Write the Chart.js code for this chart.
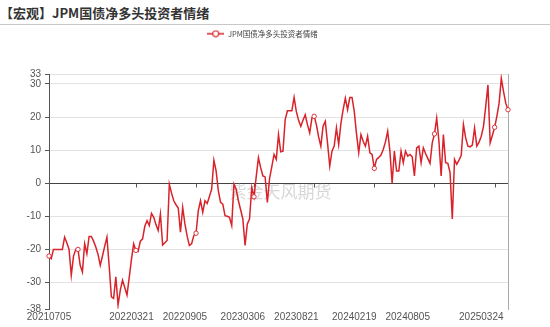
<!DOCTYPE html>
<html>
<head>
<meta charset="utf-8">
<script src="https://cdn.jsdelivr.net/npm/chart.js@4/dist/chart.umd.min.js"></script>
<style>
  html, body { margin: 0; padding: 0; background: #fff; }
  body { width: 550px; height: 327px; position: relative; overflow: hidden; }
  .title {
    position: absolute; left: 0; top: 0; width: 550px; height: 24px;
    border-bottom: 1px solid #c8c8c8;
    font: bold 13px "Noto Sans CJK SC", sans-serif; color: #333;
    line-height: 26px; padding-left: 0; white-space: nowrap;
  }
  .wrap { position: absolute; left: 0; top: 25px; width: 550px; height: 302px; }
</style>
</head>
<body>
<div class="title">【宏观】JPM国债净多头投资者情绪</div>
<div class="wrap"><canvas id="chart"></canvas></div>
<script>
  'use strict';

  // ==================== Data ====================
  const seriesName = 'JPM国债净多头投资者情绪';

  // weekly readings
  const sentiment = [
    -22, -22.8, -20, -20, -20, -20, -20, -16.3, -18, -20,
    -27.8, -22, -20, -20, -24.8, -26.8, -18.3, -21.3, -16.1, -16.1,
    -17.5, -19.3, -21.5, -24.8, -22, -19, -16.3, -25, -34.3, -34.8,
    -28.3, -36.8, -32.3, -29.3, -31.5, -33.8, -28.5, -23, -18.3, -20.3,
    -20.6, -17.5, -16.8, -13, -11.3, -12.8, -9.1, -10.3, -12.5, -14.3,
    -9.3, -18.7, -18, -17.3, -0.3, -3, -5.3, -6.5, -7.5, -14.8,
    -7.3, -12.3, -16, -18.8, -18.3, -15.8, -15.1, -8.3, -5.3, -8.8,
    -5.3, -6.1, -4, -1.8, 6.9, 3.7, -2.3, -5.8, -6.3, -9.8,
    -10, -10.3, -12.8, -0.3, -1.8, -5.3, -8, -10.8, -18.8, -12.3,
    -10.8, -1.3, -4.1, 2, 7.7, 4.7, 2.2, 1.9, -5.8, 1.5,
    5, 8.7, 7.2, 14.7, 9.5, 9.7, 19.2, 21.9, 21.9, 21.9,
    25.9, 21.7, 19, 17.2, 19, 20.7, 17.7, 15.2, 19.7, 20.2,
    17.7, 14, 11.2, 17.2, 18.7, 12.2, 5.2, 9.7, 11.2, 16.7,
    11.7, 18, 22.2, 25.7, 22.2, 25.9, 25.9, 21.7, 15, 9.2,
    14.7, 12.7, 11.2, 14.2, 9.2, 8.7, 4.5, 7.2, 7.8, 8.5,
    10.2, 12.5, 15.7, 9.7, 0, 9.7, 3.7, 3.7, 9.7, 6.2,
    9.7, 8.2, 8.7, 8, 2.2, 10.7, 11.2, 6.2, 10.7, 9,
    7.5, 6, 12.2, 14.9, 19.7, 12.7, 2.2, 14.7, 6.2, 6,
    3.2, -10.8, 7.2, 5.7, 7, 8.4, 17.7, 13.7, 11.2, 11,
    11.5, 16.7, 11.2, 12.4, 14.2, 17.2, 23.2, 29.7, 12.2, 14.5,
    16.9, 20.2, 24.2, 31.7, 27.7, 24.2, 22.2
  ];

  // one category per week, starting Monday 2021-07-05
  const firstDate = '2021-07-05';
  const dates = [];
  for (let i = 0; i < sentiment.length; i++) {
    const d = new Date(Date.parse(firstDate + 'T00:00:00Z') + i * 7 * 864e5);
    dates.push(d.toISOString().slice(0, 10).replace(/-/g, ''));
  }

  const xTickLabels = ['20210705', '20220321', '20220905', '20230306',
                       '20230821', '20240219', '20240805', '20250324'];
  const yTickValues = [33, 30, 20, 10, 0, -10, -20, -30, -38];

  // ==================== Style ====================
  const RED = '#d8232a';
  const markerIdx = [0, 13, 39, 66, 92, 119, 146, 173, 200, sentiment.length - 1];
  const zeroTickIdx = [39, 66, 92, 119, 146, 173, 200];

  // legend icon: short line with a hollow circle
  const legendIcon = document.createElement('canvas');
  legendIcon.width = 17;
  legendIcon.height = 8;
  (function() {
    const c = legendIcon.getContext('2d');
    c.strokeStyle = RED;
    c.lineWidth = 1.5;
    c.beginPath(); c.moveTo(0, 4); c.lineTo(17, 4); c.stroke();
    c.fillStyle = '#fff';
    c.lineWidth = 1.2;
    c.beginPath(); c.arc(8.5, 4, 3, 0, Math.PI * 2); c.fill(); c.stroke();
  })();

  // ==================== Plugins ====================
  const legendGap = {
    id: 'legendGap',
    beforeInit(chart) {
      const fit = chart.legend.fit;
      chart.legend.fit = function() {
        fit.bind(chart.legend)();
        this.height += 26.5;
      };
    }
  };

  const watermark = {
    id: 'watermark',
    beforeDatasetsDraw(chart) {
      const { ctx, chartArea: a } = chart;
      ctx.save();
      ctx.font = '17px "Noto Sans CJK SC", sans-serif';
      ctx.fillStyle = 'rgba(150,150,150,0.38)';
      ctx.textAlign = 'center';
      ctx.textBaseline = 'middle';
      ctx.fillText('紫金天风期货', (a.left + a.right) / 2 + 2, (a.top + a.bottom) / 2);
      ctx.restore();
    }
  };

  const zeroTicks = {
    id: 'zeroTicks',
    beforeDatasetsDraw(chart) {
      const { ctx, scales } = chart;
      const y0 = Math.round(scales.y.getPixelForValue(0)) + 0.5;
      ctx.save();
      ctx.strokeStyle = '#555';
      ctx.lineWidth = 1;
      ctx.beginPath();
      zeroTickIdx.forEach(i => {
        const x = Math.round(scales.x.getPixelForValue(i)) + 0.5;
        ctx.moveTo(x, y0);
        ctx.lineTo(x, y0 + 4);
      });
      ctx.stroke();
      ctx.restore();
    }
  };

  // ==================== Chart ====================
  const tickFont = { family: '"Liberation Sans", Arial, sans-serif', size: 10 };

  new Chart(document.getElementById('chart'), {
    type: 'line',
    data: {
      labels: dates,
      datasets: [{
        label: seriesName,
        data: sentiment,
        borderColor: RED,
        borderWidth: 1.5,
        tension: 0,
        fill: false,
        pointRadius: ctx => markerIdx.includes(ctx.dataIndex) ? 2.2 : 0,
        pointBackgroundColor: '#fff',
        pointBorderColor: RED,
        pointBorderWidth: 0.9,
        pointHoverRadius: 0
      }]
    },
    options: {
      responsive: true,
      maintainAspectRatio: false,
      animation: false,
      layout: { padding: { top: 2, right: 25, bottom: 2, left: 0 } },
      plugins: {
        legend: {
          position: 'top',
          labels: {
            usePointStyle: true,
            pointStyleWidth: 17,
            padding: 3,
            color: '#444',
            font: { family: '"Noto Sans CJK SC", sans-serif', size: 7.5 },
            generateLabels(chart) {
              const items = Chart.defaults.plugins.legend.labels.generateLabels(chart);
              items.forEach(it => { it.pointStyle = legendIcon; });
              return items;
            }
          }
        },
        tooltip: { enabled: false }
      },
      scales: {
        x: {
          type: 'category',
          grid: { display: false, drawTicks: false },
          border: { display: false },
          ticks: {
            autoSkip: false,
            maxRotation: 0,
            padding: 2,
            color: '#555',
            font: tickFont,
            callback: (value, index) => xTickLabels.includes(dates[index]) ? dates[index] : ''
          }
        },
        y: {
          min: -38,
          max: 33,
          afterBuildTicks: axis => {
            axis.ticks = yTickValues.map(v => ({ value: v }));
          },
          afterFit: axis => { axis.width = 49; },
          grid: {
            color: ctx => {
              const v = ctx.tick ? ctx.tick.value : null;
              if (v === 0) return '#444';
              if (v === -38) return 'rgba(0,0,0,0)';
              return '#e2e2e2';
            },
            tickColor: '#555',
            tickLength: 4
          },
          border: { color: '#555' },
          ticks: {
            autoSkip: false,
            padding: 4,
            color: '#555',
            font: tickFont
          }
        },
        y2: {
          position: 'right',
          min: -38,
          max: 33,
          afterFit: axis => { axis.width = 17; },
          grid: { drawOnChartArea: false, drawTicks: false },
          border: { color: '#aaa' },
          ticks: { display: false }
        }
      }
    },
    plugins: [legendGap, watermark, zeroTicks]
  });
</script>
</body>
</html>
